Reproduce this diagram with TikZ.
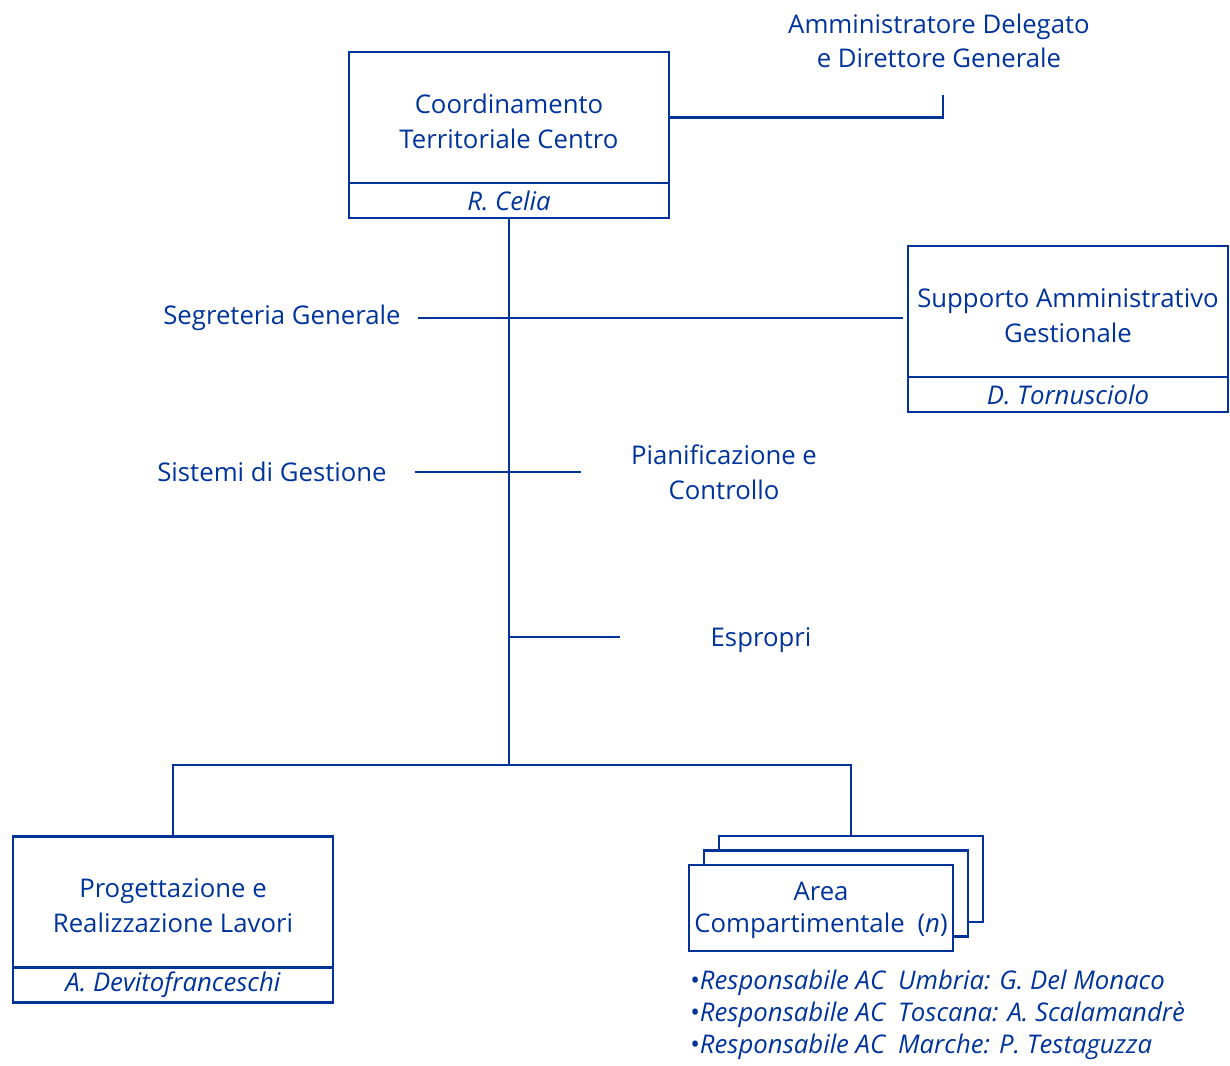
\documentclass[tikz,border=0pt]{standalone}
\usepackage{fontspec}
\setmainfont{Open Sans}
\usetikzlibrary{positioning}
\definecolor{orgblue}{RGB}{0,52,155}
\newcommand{\dropline}{\rule{0pt}{20pt}}
\tikzset{
  wire/.style={draw=orgblue, line width=1.8pt},
  unit/.style={draw=orgblue, line width=1.8pt, text=orgblue, align=center,
    minimum width=240pt, minimum height=98pt, inner sep=0pt, outer sep=0pt,
    font=\fontsize{19.3}{26.3}\selectfont},
  head/.style={unit, minimum height=26.5pt, font=\fontsize{19.3}{26}\selectfont\itshape},
  label/.style={text=orgblue, align=center, inner sep=0pt,
    font=\fontsize{19.3}{26}\selectfont},
  sheet/.style={draw=orgblue, line width=1.8pt, fill=white, text=orgblue,
    minimum width=198pt, minimum height=64.5pt, inner sep=0pt, outer sep=0pt,
    align=center, font=\fontsize{19.3}{24}\selectfont}
}
\begin{document}
\begin{tikzpicture}[x=0.75pt, y=-0.75pt]
    \useasboundingbox (0,0) rectangle (1230,1066);
    % top unit
    \node[unit] (coord) at (509,117.5) {\dropline Coordinamento\\Territoriale Centro};
    \node[head, anchor=north] (coordname) at (coord.south) {R. Celia};
    \node[label] (ad) at (939,41) {Amministratore Delegato\\e Direttore Generale};
    \coordinate (adfoot) at (943,95);
    \draw[wire] (coord.east) -| (adfoot);
    % staff units
    \node[unit] (supp) at (1068,311.5) {\dropline Supporto Amministrativo\\Gestionale};
    \node[head, anchor=north] (suppname) at (supp.south) {D. Tornusciolo};
    \node[label] (segr) at (282,318) {Segreteria Generale};
    \node[label] (sist) at (272,472) {Sistemi di Gestione};
    \node[label] (pian) at (724,472) {Pianificazione e\\Controllo};
    \node[label] (espr) at (761,640) {Espropri};
    \coordinate (trunkbot) at (509,765);
    \coordinate (esprj) at (509,637);
    \draw[wire] (coordname.south) -- (trunkbot);
    \draw[wire, shorten <=12.5pt, shorten >=3.5pt] (segr.east) -- (segr.east -| supp.west);
    \draw[wire, shorten <=21pt, shorten >=37pt] (sist.east) -- (pian.west |- sist.east);
    \draw[wire, shorten >=68pt] (esprj) -- (espr.west |- esprj);
    % line units
    \node[unit] (prog) at (173,902) {\dropline Progettazione e\\Realizzazione Lavori};
    \node[head, anchor=north] (progname) at (prog.south) {A. Devitofranceschi};
    \node[sheet] (area3) at (851,879) {};
    \node[sheet] (area2) at (836,893.5) {};
    \node[sheet] (area1) at (821,908) {\rule{0pt}{18pt}Area\\Compartimentale\enspace(\textit{n})};
    \draw[wire] (prog.north) |- (trunkbot) -| (area3.north);
    \node[label, anchor=north west, align=left, font=\fontsize{19.3}{24}\selectfont]
      (resp) at (690,970) {\textbullet\textit{Responsabile AC\enspace Umbria: G. Del Monaco}\\
      \textbullet\textit{Responsabile AC\enspace Toscana: A. Scalamandrè}\\
      \textbullet\textit{Responsabile AC\enspace Marche: P. Testaguzza}};
\end{tikzpicture}
\end{document}
